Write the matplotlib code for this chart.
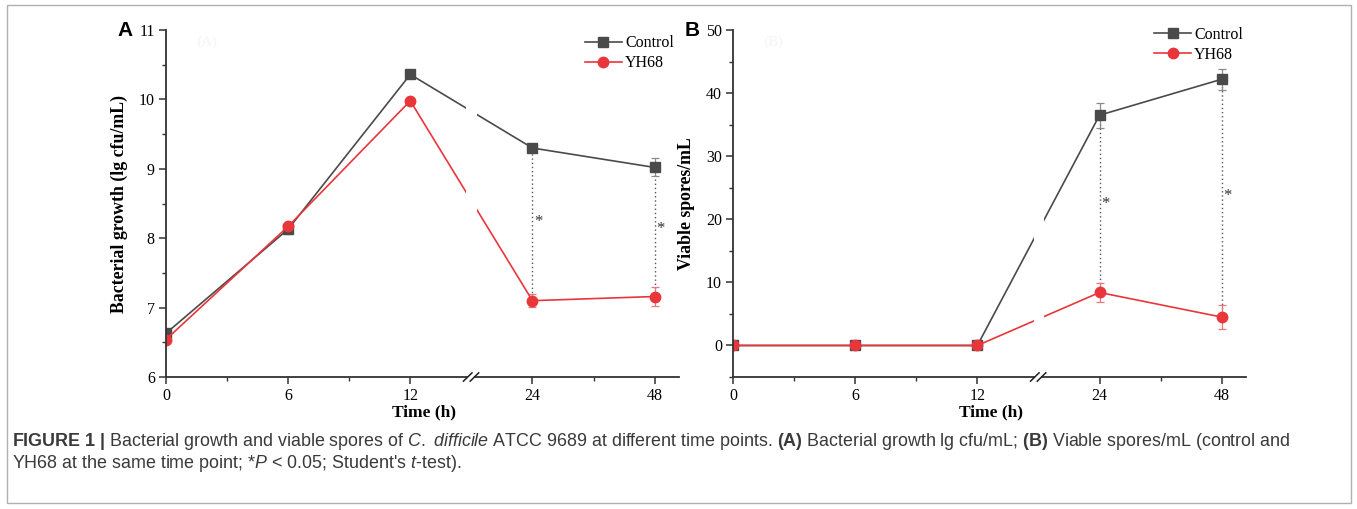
import matplotlib
matplotlib.use("Agg")
import matplotlib.pyplot as plt
from matplotlib.lines import Line2D
from matplotlib.patches import Rectangle
from matplotlib.ticker import FixedLocator, MultipleLocator

# time points are shown on an evenly spaced (broken) axis
TIME_LABELS = ["0", "6", "12", "24", "48"]
TIME_POS = [0, 1, 2, 3, 4]

GROWTH_CONTROL = [6.63, 8.13, 10.36, 9.30, 9.02]
GROWTH_CONTROL_ERR = [0.03, 0.07, 0.02, 0.03, 0.13]
GROWTH_YH68 = [6.54, 8.17, 9.98, 7.10, 7.16]
GROWTH_YH68_ERR = [0.03, 0.05, 0.02, 0.09, 0.14]

SPORES_CONTROL = [0.0, 0.0, 0.0, 36.5, 42.2]
SPORES_CONTROL_ERR = [0.0, 0.0, 0.0, 2.0, 1.7]
SPORES_YH68 = [0.0, 0.0, 0.0, 8.4, 4.5]
SPORES_YH68_ERR = [0.0, 0.0, 0.0, 1.5, 1.9]

# heights of the significance stars at 24 h and 48 h
STARS_GROWTH = [8.24, 8.13]
STARS_SPORES = [22.5, 23.7]

CONTROL_COLOR = "#4a4a4a"
YH68_COLOR = "#e8363b"
SERIF = "Liberation Serif"

plt.rcParams["mathtext.fontset"] = "custom"
plt.rcParams["mathtext.rm"] = "Liberation Sans"
plt.rcParams["mathtext.bf"] = "Liberation Sans:bold"
plt.rcParams["mathtext.it"] = "Liberation Sans:italic"


def draw_panel(ax, control, control_err, yh68, yh68_err, ylim, major, minor,
               ylabel, stars, letter, tag, legend_anchor):
    ax.errorbar(TIME_POS, control, yerr=control_err, color=CONTROL_COLOR,
                marker="s", ms=6.5, lw=1.2, ecolor="#8a8a8a", elinewidth=0.9,
                capsize=3, capthick=0.9, zorder=2)
    ax.errorbar(TIME_POS, yh68, yerr=yh68_err, color=YH68_COLOR,
                marker="o", ms=7.5, lw=1.2, ecolor="#e8777a", elinewidth=0.9,
                capsize=3, capthick=0.9, zorder=2)

    # dotted links + stars at 24 h and 48 h
    for i, ys in zip([3, 4], stars):
        ax.vlines(TIME_POS[i], yh68[i], control[i], colors="#555555",
                  linestyles=(0, (1, 2)), lw=1.0, zorder=1.5)
        ax.text(TIME_POS[i] + 0.045, ys, "*", family=SERIF, fontsize=12,
                ha="center", va="center", color="#333333")

    # gap in the lines at the axis break
    ax.axvspan(2.46, 2.545, ymin=0.005, ymax=1, color="white", lw=0,
               zorder=2.2)

    ax.set_xlim(0, 4.2)
    ax.set_ylim(*ylim)
    ax.xaxis.set_major_locator(FixedLocator(TIME_POS))
    ax.set_xticklabels(TIME_LABELS)
    ax.xaxis.set_minor_locator(FixedLocator([0.5, 1.5, 3.5]))
    ax.yaxis.set_major_locator(MultipleLocator(major))
    ax.yaxis.set_minor_locator(MultipleLocator(minor))

    for side in ("top", "right"):
        ax.spines[side].set_visible(False)
    for side in ("left", "bottom"):
        ax.spines[side].set_linewidth(1.3)
        ax.spines[side].set_color("#333333")
    ax.tick_params(which="major", direction="out", length=5, width=1.1,
                   color="#333333", labelsize=11.5, pad=3)
    ax.tick_params(which="minor", direction="out", length=3, width=1.0,
                   color="#333333")
    for lab in ax.get_xticklabels() + ax.get_yticklabels():
        lab.set_family(SERIF)

    # break marker on the x axis
    trans = ax.get_xaxis_transform()
    ax.add_patch(Rectangle((2.47, -0.015), 0.05, 0.03, transform=trans,
                           color="white", lw=0, clip_on=False, zorder=3))
    for x0 in (2.435, 2.49):
        ax.plot([x0, x0 + 0.07], [-0.012, 0.012], transform=trans,
                color="#222222", lw=1.1, clip_on=False, zorder=4)

    ax.set_ylabel(ylabel, family=SERIF, fontweight="bold", fontsize=12.8)
    ax.yaxis.set_label_coords(-0.074, 0.5)
    ax.set_xlabel("Time (h)", family=SERIF, fontweight="bold", fontsize=12.5)
    ax.xaxis.set_label_coords(0.503, -0.08)

    ax.text(0.06, 0.955, tag, transform=ax.transAxes, family=SERIF,
            fontweight="bold", fontsize=11, color="#f7f7f7")

    handles = [
        Line2D([], [], color=CONTROL_COLOR, marker="s", ms=6.5, lw=1.2),
        Line2D([], [], color=YH68_COLOR, marker="o", ms=7.5, lw=1.2),
    ]
    ax.legend(handles, ["Control", "YH68"], loc="upper right",
              bbox_to_anchor=legend_anchor, frameon=False,
              prop={"family": SERIF, "size": 11.5}, handlelength=2.3,
              handletextpad=0.2, labelspacing=0.25, borderaxespad=0,
              borderpad=0)

    pos = ax.get_position()
    ax.figure.text(pos.x0 - 0.03, pos.y1, letter, family="Liberation Sans",
                   fontweight="bold", fontsize=15, ha="center", va="center")


fig = plt.figure(figsize=(13.57, 5.09), dpi=100)
ax_a = fig.add_axes([0.1223, 0.2593, 0.3781, 0.6817])
ax_b = fig.add_axes([0.5402, 0.2593, 0.3781, 0.6817])

draw_panel(ax_a, GROWTH_CONTROL, GROWTH_CONTROL_ERR, GROWTH_YH68,
           GROWTH_YH68_ERR, (6, 11), 1, 0.5, "Bacterial growth (lg cfu/mL)",
           STARS_GROWTH, "A", "(A)", (0.99, 0.985))
draw_panel(ax_b, SPORES_CONTROL, SPORES_CONTROL_ERR, SPORES_YH68,
           SPORES_YH68_ERR, (-5, 50), 10, 5, "Viable spores/mL",
           STARS_SPORES, "B", "(B)", (0.994, 1.01))

caption_1 = (r"$\mathbf{FIGURE\ 1\ |}$ Bacterial growth and viable spores of "
             r"$\mathit{C.\ difficile}$ ATCC 9689 at different time points. "
             r"$\mathbf{(A)}$ Bacterial growth lg cfu/mL; $\mathbf{(B)}$ "
             r"Viable spores/mL (control and")
caption_2 = (r"YH68 at the same time point; *$\mathit{P}$ < 0.05; Student's "
             r"$\mathit{t}$-test).")
fig.text(12 / 1357, 1 - 441 / 509, caption_1, family="Liberation Sans",
         fontsize=12.9, color="#3a3a3a", va="center")
fig.text(12 / 1357, 1 - 464 / 509, caption_2, family="Liberation Sans",
         fontsize=12.9, color="#3a3a3a", va="center")

fig.add_artist(Rectangle((0.005, 0.012), 0.9905, 0.978,
                         transform=fig.transFigure, fill=False,
                         edgecolor="#b0b0b0", lw=1.0))

fig.savefig("out.png", dpi=100)
